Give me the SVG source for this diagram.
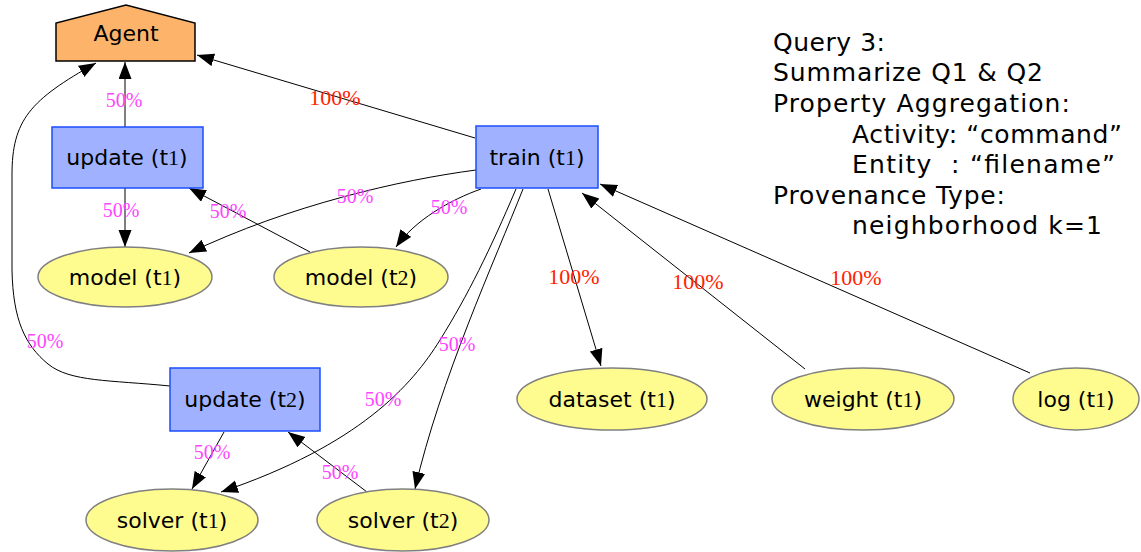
<svg xmlns="http://www.w3.org/2000/svg" width="1141" height="552" viewBox="0 0 1141 552">
  <style>
    .act rect { fill: #a0b2ff; stroke: #1d4dff; stroke-width: 1.5; }
    .ent ellipse { fill: #fffc8f; stroke: #808080; stroke-width: 1.5; }
    .agt polygon { fill: #fdb36a; stroke: #000; stroke-width: 1.5; }
    .lbl { font-family: "DejaVu Sans", sans-serif; font-size: 22px; fill: #000; text-anchor: middle; }
    .d { font-family: "Liberation Serif", serif; }
    .e { fill: none; stroke: #000; stroke-width: 1; marker-end: url(#arr); }
    .p50 { font-family: "Liberation Serif", serif; font-size: 20px; fill: #ff44ff; text-anchor: middle; }
    .p100 { font-family: "Liberation Serif", serif; font-size: 22px; fill: #ff2200; text-anchor: middle; }
    .note { font-family: "DejaVu Sans", sans-serif; font-size: 25px; fill: #000; }
  </style>
  <defs>
    <marker id="arr" markerUnits="userSpaceOnUse" markerWidth="18" markerHeight="14" refX="17" refY="6.5" orient="auto">
      <path d="M0,0 L17,6.5 L0,13 Z" fill="#000"/>
    </marker>
  </defs>
  <rect width="1141" height="552" fill="#fff"/>

  <!-- connectors -->
  <g id="edges">
    <path class="e" d="M125,127 L125,62"/>
    <path class="e" d="M125,188 L125,247"/>
    <path class="e" d="M310,252 L189,188"/>
    <path class="e" d="M475,138 L197,55"/>
    <path class="e" d="M476,170 C400,180 290,205 189,253"/>
    <path class="e" d="M481,189 C450,200 415,220 396,247"/>
    <path class="e" d="M516,189 C490,250 468,295 440,340 C412,385 360,445 221,492"/>
    <path class="e" d="M523,189 C495,260 440,380 415,489"/>
    <path class="e" d="M548,189 L601,366"/>
    <path class="e" d="M805,369 L582,193"/>
    <path class="e" d="M1030,373 L600,184"/>
    <path class="e" d="M170,386 C110,380 70,382 48,364 C25,345 13,320 12,270 L12,175 C12,120 30,100 96,63"/>
    <path class="e" d="M224,432 L192,489"/>
    <path class="e" d="M367,492 L288,432"/>

    <text class="p50" x="124" y="107">50%</text>
    <text class="p50" x="121" y="217">50%</text>
    <text class="p50" x="228" y="218">50%</text>
    <text class="p100" x="335" y="105">100%</text>
    <text class="p50" x="355" y="203">50%</text>
    <text class="p50" x="449" y="214">50%</text>
    <text class="p50" x="383" y="406">50%</text>
    <text class="p50" x="457" y="351">50%</text>
    <text class="p100" x="574" y="284">100%</text>
    <text class="p100" x="698" y="289">100%</text>
    <text class="p100" x="856" y="285">100%</text>
    <text class="p50" x="45" y="348">50%</text>
    <text class="p50" x="212" y="459">50%</text>
    <text class="p50" x="340" y="479">50%</text>
  </g>

  <!-- nodes -->
  <g id="agent" class="agt">
    <polygon points="56,61 56,23 126,5 195,23 195,61"/>
    <text class="lbl" x="126" y="41">Agent</text>
  </g>
  <g id="update_t1" class="act">
    <rect x="52" y="127" width="151" height="61"/>
    <text class="lbl" x="127" y="165">update (t<tspan class="d">1</tspan>)</text>
  </g>
  <g id="train_t1" class="act">
    <rect x="476" y="126" width="122" height="62"/>
    <text class="lbl" x="537" y="165">train (t<tspan class="d">1</tspan>)</text>
  </g>
  <g id="model_t1" class="ent">
    <ellipse cx="125" cy="277" rx="87" ry="30"/>
    <text class="lbl" x="125" y="285">model (t<tspan class="d">1</tspan>)</text>
  </g>
  <g id="model_t2" class="ent">
    <ellipse cx="361" cy="277" rx="87" ry="30"/>
    <text class="lbl" x="361" y="285">model (t<tspan class="d">2</tspan>)</text>
  </g>
  <g id="update_t2" class="act">
    <rect x="170" y="368" width="150" height="63"/>
    <text class="lbl" x="245" y="407">update (t<tspan class="d">2</tspan>)</text>
  </g>
  <g id="solver_t1" class="ent">
    <ellipse cx="172" cy="520" rx="86" ry="31"/>
    <text class="lbl" x="172" y="528">solver (t<tspan class="d">1</tspan>)</text>
  </g>
  <g id="solver_t2" class="ent">
    <ellipse cx="403" cy="520" rx="86" ry="31"/>
    <text class="lbl" x="403" y="528">solver (t<tspan class="d">2</tspan>)</text>
  </g>
  <g id="dataset_t1" class="ent">
    <ellipse cx="612" cy="399" rx="95" ry="31"/>
    <text class="lbl" x="612" y="407">dataset (t<tspan class="d">1</tspan>)</text>
  </g>
  <g id="weight_t1" class="ent">
    <ellipse cx="863" cy="399" rx="91" ry="31"/>
    <text class="lbl" x="863" y="407">weight (t<tspan class="d">1</tspan>)</text>
  </g>
  <g id="log_t1" class="ent">
    <ellipse cx="1076" cy="399" rx="63" ry="31"/>
    <text class="lbl" x="1076" y="407">log (t<tspan class="d">1</tspan>)</text>
  </g>

  <!-- query description -->
  <g id="query">
    <text class="note" x="773" y="51" textLength="112" lengthAdjust="spacing">Query 3:</text>
    <text class="note" x="773" y="81" textLength="270" lengthAdjust="spacing">Summarize Q1 &amp; Q2</text>
    <text class="note" x="773" y="112" textLength="297" lengthAdjust="spacing">Property Aggregation:</text>
    <text class="note" x="852" y="143" textLength="270" lengthAdjust="spacing">Activity: “command”</text>
    <text class="note" x="852" y="173" textLength="263" lengthAdjust="spacing" xml:space="preserve">Entity  : “filename”</text>
    <text class="note" x="773" y="204" textLength="232" lengthAdjust="spacing">Provenance Type:</text>
    <text class="note" x="852" y="234" textLength="250" lengthAdjust="spacing">neighborhood k=1</text>
  </g>
</svg>
